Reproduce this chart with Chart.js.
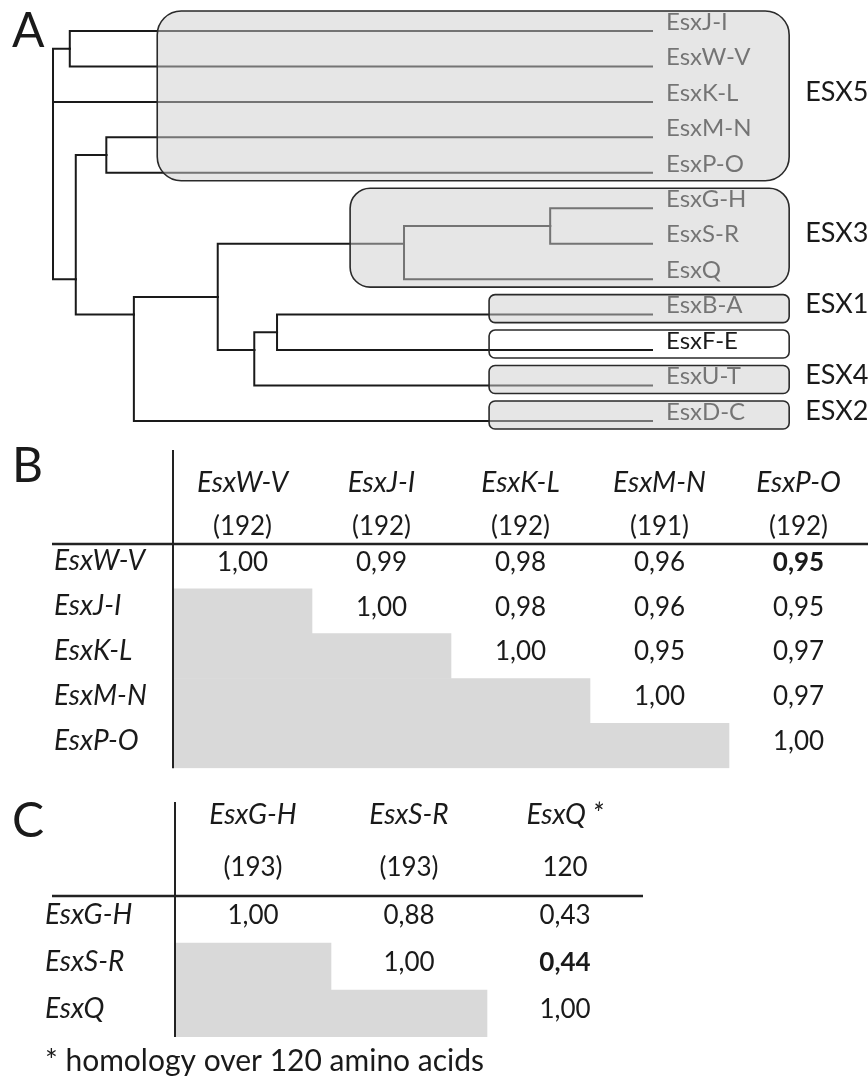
<!DOCTYPE html>
<html>
<head>
<meta charset="utf-8">
<script src="https://cdn.jsdelivr.net/npm/chart.js@4/dist/chart.umd.min.js"></script>
<style>
  body { margin: 0; background: #fff; width: 868px; height: 1079px; position: relative; overflow: hidden; }
  canvas { position: absolute; left: 0; }
</style>
</head>
<body>
<canvas id="tree" width="868" height="440" style="top:0"></canvas>
<canvas id="tableB" width="868" height="345" style="top:440px"></canvas>
<canvas id="tableC" width="868" height="289" style="top:790px"></canvas>
<script>
// ---- panel A: tree ----
const leafNames = ['EsxJ-I', 'EsxW-V', 'EsxK-L', 'EsxM-N', 'EsxP-O', 'EsxG-H', 'EsxS-R', 'EsxQ', 'EsxB-A', 'EsxF-E', 'EsxU-T', 'EsxD-C'];
const leafParent = ['n1', 'n1', 'root', 'n2', 'n2', 'n3', 'n3', 'n4', 'n5', 'n5', 'n6', 'n8'];
// internal nodes: depth = distance from root as fraction of root-to-tip, row = position in leaf rows
const nodeNames = ['root', 'n1', 'n2', 'n3', 'n4', 'n5', 'n6', 'n7', 'n8', 'n9'];
const nodeDepth = [0, 0.028, 0.089, 0.830, 0.586, 0.374, 0.336, 0.275, 0.135, 0.038];
const nodeRow = [2, 0.5, 3.5, 5.5, 6, 8.5, 9, 7.5, 8, 7];
const nodeParent = [null, 'root', 'n9', 'n4', 'n7', 'n6', 'n7', 'n8', 'n9', 'root'];

const groupNames = ['ESX5', 'ESX3', 'ESX1', '', 'ESX4', 'ESX2'];
const groupFirst = [0, 5, 8, 9, 10, 11];
const groupLast = [4, 7, 8, 9, 10, 11];
const groupShaded = [true, true, true, false, true, true];

// ---- panel B ----
const colsB = ['EsxW-V', 'EsxJ-I', 'EsxK-L', 'EsxM-N', 'EsxP-O'];
const lensB = ['(192)', '(192)', '(192)', '(191)', '(192)'];
const rowsB = ['EsxW-V', 'EsxJ-I', 'EsxK-L', 'EsxM-N', 'EsxP-O'];
const valsB = [
  [1.00, 0.99, 0.98, 0.96, 0.95],
  [null, 1.00, 0.98, 0.96, 0.95],
  [null, null, 1.00, 0.95, 0.97],
  [null, null, null, 1.00, 0.97],
  [null, null, null, null, 1.00]
];
const boldB = ['0,4'];

// ---- panel C ----
const colsC = ['EsxG-H', 'EsxS-R', 'EsxQ *'];
const lensC = ['(193)', '(193)', '120'];
const rowsC = ['EsxG-H', 'EsxS-R', 'EsxQ'];
const valsC = [
  [1.00, 0.88, 0.43],
  [null, 1.00, 0.44],
  [null, null, 1.00]
];
const boldC = ['1,2'];
const footnote = '* homology over 120 amino acids';

const FONT = 'Lato, "Open Sans", sans-serif';
const INK = '#1a1a1a';

// build elbows child -> parent
function nodeInfo(name) {
  const i = nodeNames.indexOf(name);
  return { depth: nodeDepth[i], row: nodeRow[i] };
}
const elbows = [];
leafNames.forEach((n, i) => {
  const p = nodeInfo(leafParent[i]);
  elbows.push([{ x: p.depth, y: p.row }, { x: p.depth, y: i }, { x: 1, y: i }]);
});
nodeNames.forEach((n, i) => {
  if (!nodeParent[i]) return;
  const p = nodeInfo(nodeParent[i]);
  elbows.push([{ x: p.depth, y: p.row }, { x: p.depth, y: nodeRow[i] }, { x: nodeDepth[i], y: nodeRow[i] }]);
});

const treeDecor = {
  id: 'treeDecor',
  afterDatasetsDraw(chart) {
    const { ctx, scales: { x, y } } = chart;
    const tip = x.getPixelForValue(1);
    ctx.save();
    ctx.fillStyle = INK;
    ctx.font = '24px ' + FONT;
    ctx.textBaseline = 'middle';
    leafNames.forEach((n, i) => ctx.fillText(n, tip + 14, y.getPixelForValue(i) - 9));

    const boxLeft = [0.174, 0.496, 0.728, 0.728, 0.728, 0.728];
    const boxRadius = [24, 20, 6, 6, 6, 6];
    groupNames.forEach((g, k) => {
      const l = x.getPixelForValue(boxLeft[k]);
      const r = x.getPixelForValue(1.229);
      const t = y.getPixelForValue(groupFirst[k]) - 20;
      const b = y.getPixelForValue(groupLast[k]) + 8;
      ctx.beginPath();
      ctx.roundRect(l, t, r - l, b - t, boxRadius[k]);
      if (groupShaded[k]) {
        ctx.fillStyle = 'rgba(205,205,205,0.5)';
        ctx.fill();
      }
      ctx.lineWidth = 1.6;
      ctx.strokeStyle = '#2a2a2a';
      ctx.stroke();
      if (g) {
        ctx.fillStyle = INK;
        ctx.font = '27px ' + FONT;
        ctx.fillText(g, r + 16, y.getPixelForValue((groupFirst[k] + groupLast[k]) / 2) - 10);
      }
    });
    ctx.fillStyle = INK;
    ctx.font = '48px ' + FONT;
    ctx.textBaseline = 'alphabetic';
    ctx.fillText('A', 12, 47);
    ctx.restore();
  }
};

new Chart(document.getElementById('tree'), {
  type: 'scatter',
  data: {
    datasets: elbows.map(pts => ({
      data: pts, showLine: true, pointRadius: 0, borderColor: INK, borderWidth: 2,
      borderJoinStyle: 'miter', borderCapStyle: 'square', tension: 0, clip: false
    }))
  },
  options: {
    responsive: false, animation: false, events: [],
    layout: { padding: 0 },
    plugins: { legend: { display: false }, tooltip: { enabled: false } },
    scales: {
      x: { type: 'linear', min: -0.0885, max: 1.3606, display: false },
      y: { type: 'linear', reverse: true, min: -0.8745, max: 11.537, display: false }
    }
  },
  plugins: [treeDecor]
});

// ---- similarity tables ----
function fmt(v) { return v.toFixed(2).replace('.', ','); }

function tableDecor(letter, letterBase, cols, lens, vals, bold, nameY, lenY, lineLeft, vTop, note) {
  return {
    id: 'tableDecor',
    afterDatasetsDraw(chart) {
      const { ctx, chartArea: a, scales: { x, y } } = chart;
      ctx.save();
      ctx.fillStyle = INK;
      ctx.textAlign = 'center';
      ctx.textBaseline = 'middle';
      cols.forEach((c, i) => {
        const cx = x.getPixelForValue(i);
        ctx.font = 'italic 28px ' + FONT;
        ctx.fillText(c, cx, nameY);
        ctx.font = '26px ' + FONT;
        ctx.fillText(lens[i], cx, lenY);
      });
      vals.forEach((row, r) => row.forEach((v, c) => {
        if (v === null) return;
        ctx.font = (bold.includes(r + ',' + c) ? 'bold ' : '') + '26px ' + FONT;
        ctx.fillText(fmt(v), x.getPixelForValue(c), y.getPixelForValue(r) - 4);
      }));
      ctx.strokeStyle = '#222';
      ctx.lineWidth = 2.4;
      ctx.beginPath();
      ctx.moveTo(lineLeft, a.top);
      ctx.lineTo(a.right, a.top);
      ctx.stroke();
      ctx.lineWidth = 2;
      ctx.beginPath();
      ctx.moveTo(a.left, vTop);
      ctx.lineTo(a.left, a.bottom);
      ctx.stroke();
      ctx.textAlign = 'left';
      ctx.textBaseline = 'alphabetic';
      ctx.font = '48px ' + FONT;
      ctx.fillText(letter, 12, letterBase);
      if (note) {
        ctx.font = '30px ' + FONT;
        ctx.fillText(note, 45, 281);
      }
      ctx.restore();
    }
  };
}

function makeTable(id, rows, cols, pad, axisWidth, plugin) {
  return new Chart(document.getElementById(id), {
    type: 'bar',
    data: {
      labels: rows,
      datasets: [{
        data: rows.map((_, r) => r === 0 ? null : [-0.5, r - 0.5]),
        backgroundColor: '#d9d9d9', borderWidth: 0,
        barPercentage: 1, categoryPercentage: 1
      }]
    },
    options: {
      indexAxis: 'y', responsive: false, animation: false, events: [],
      layout: { padding: pad },
      plugins: { legend: { display: false }, tooltip: { enabled: false } },
      scales: {
        x: { type: 'linear', min: -0.5, max: cols.length - 0.5, display: false },
        y: {
          type: 'category',
          grid: { display: false }, border: { display: false },
          ticks: { color: INK, font: { family: FONT, size: 28, style: 'italic' }, crossAlign: 'far', padding: 0, labelOffset: -5 },
          afterFit(s) { s.width = axisWidth; }
        }
      }
    },
    plugins: [plugin]
  });
}

makeTable('tableB', rowsB, colsB, { left: 54, top: 104, right: 0, bottom: 5 }, 119,
  tableDecor('B', 42, colsB, lensB, valsB, boldB, 43, 87, 52, 10, null));
makeTable('tableC', rowsC, colsC, { left: 45, top: 106, right: 225, bottom: 42 }, 130,
  tableDecor('C', 47, colsC, lensC, valsC, boldC, 25, 78, 52, 12, footnote));
</script>
</body>
</html>
